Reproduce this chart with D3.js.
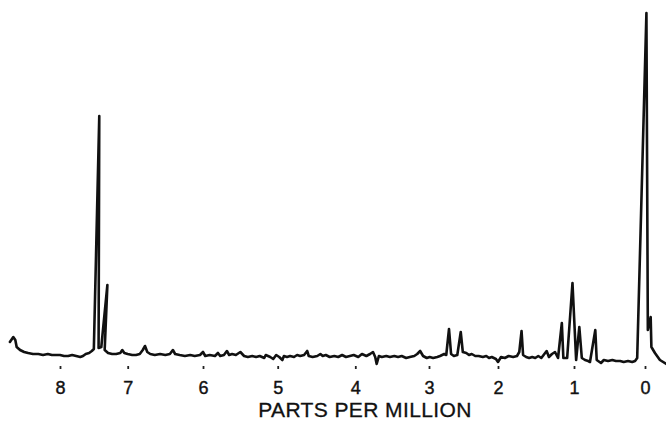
<!DOCTYPE html>
<html>
<head>
<meta charset="utf-8">
<script src="https://cdn.jsdelivr.net/npm/d3@7"></script>
<style>
  html, body { margin: 0; padding: 0; background: #fff; }
  svg { display: block; }
</style>
</head>
<body>
<svg id="chart" width="666" height="421"></svg>
<script>
// Chemical shift (ppm) of each traced point of the spectrum
const ppm = [
  8.74, 8.69, 8.66, 8.64, 8.59, 8.53, 8.47, 8.40, 8.32, 8.25, 8.18, 8.12, 8.06, 8.00,
  7.94, 7.88, 7.82, 7.76, 7.70, 7.66, 7.62, 7.57, 7.53, 7.50, 7.42, 7.43, 7.39, 7.30,
  7.34, 7.29, 7.23, 7.17, 7.11, 7.08, 7.05, 7.00, 6.94, 6.89, 6.84, 6.80, 6.77, 6.74,
  6.70, 6.64, 6.57, 6.50, 6.44, 6.40, 6.37, 6.31, 6.24, 6.17, 6.11, 6.04, 6.00, 5.97,
  5.91, 5.84, 5.80, 5.77, 5.72, 5.68, 5.65, 5.61, 5.56, 5.50, 5.45, 5.40, 5.34, 5.29,
  5.24, 5.18, 5.16, 5.10, 5.06, 5.02, 4.98, 4.94, 4.92, 4.88, 4.84, 4.79, 4.75, 4.71,
  4.66, 4.62, 4.60, 4.55, 4.49, 4.45, 4.42, 4.38, 4.33, 4.27, 4.22, 4.17, 4.12, 4.07,
  4.02, 3.96, 3.91, 3.85, 3.80, 3.76, 3.73, 3.71, 3.68, 3.64, 3.58, 3.53, 3.47, 3.42,
  3.37, 3.31, 3.26, 3.20, 3.16, 3.12, 3.08, 3.03, 2.99, 2.94, 2.88, 2.84, 2.78, 2.75,
  2.71, 2.68, 2.64, 2.59, 2.54, 2.51, 2.46, 2.42, 2.38, 2.33, 2.28, 2.22, 2.17, 2.13,
  2.09, 2.03, 2.00, 1.96, 1.91, 1.86, 1.80, 1.75, 1.72, 1.69, 1.67, 1.63, 1.59, 1.55,
  1.51, 1.47, 1.43, 1.39, 1.36, 1.33, 1.29, 1.25, 1.21, 1.16, 1.14, 1.09, 1.02, 0.97,
  0.925, 0.89, 0.845, 0.80, 0.775, 0.70, 0.68, 0.62, 0.58, 0.52, 0.46, 0.41, 0.35, 0.30,
  0.24, 0.18, 0.14, 0.11, -0.02, -0.04, -0.08, -0.09, -0.14, -0.21, -0.30
];
// Signal intensity (arbitrary units) at each traced point
const intensity = [
  1.8, 2.3, 2.0, 1.3, 1.0, 0.8, 0.7, 0.6, 0.6, 0.5, 0.6, 0.5, 0.5, 0.5,
  0.4, 0.4, 0.5, 0.4, 0.3, 0.4, 0.6, 0.7, 0.9, 1.1, 24.4, 1.2, 1.3, 7.5,
  1.0, 0.7, 0.6, 0.6, 0.7, 1.0, 0.7, 0.6, 0.5, 0.5, 0.6, 1.0, 1.4, 0.8,
  0.6, 0.5, 0.6, 0.5, 0.6, 1.0, 0.6, 0.5, 0.4, 0.5, 0.4, 0.5, 0.8, 0.4,
  0.5, 0.4, 0.7, 0.4, 0.5, 0.9, 0.5, 0.6, 0.5, 0.8, 0.4, 0.3, 0.4, 0.3,
  0.4, 0.2, 0.5, 0.3, 0.1, 0.5, 0.3, 0.0, 0.4, 0.3, 0.4, 0.3, 0.5, 0.4,
  0.5, 0.9, 0.4, 0.3, 0.4, 0.6, 0.4, 0.5, 0.3, 0.4, 0.3, 0.5, 0.3, 0.4,
  0.5, 0.3, 0.6, 0.4, 0.6, 0.8, 0.3, -0.4, 0.4, 0.3, 0.4, 0.3, 0.4, 0.3,
  0.4, 0.2, 0.3, 0.4, 0.6, 0.9, 0.4, 0.2, 0.3, 0.2, 0.3, 0.4, 0.6, 0.5,
  3.1, 0.6, 0.4, 0.5, 2.8, 0.8, 0.7, 0.5, 0.6, 0.4, 0.4, 0.3, 0.4, 0.2,
  0.3, 0.1, -0.2, 0.3, 0.2, 0.4, 0.3, 0.4, 0.8, 2.9, 0.5, 0.3, 0.2, 0.3,
  0.2, 0.4, 0.2, 0.6, 0.9, 0.3, 0.6, 0.8, 0.2, 3.7, 0.2, 0.2, 7.7, 0.0,
  3.3, 0.2, 0.0, -0.1, -0.2, 3.0, 0.0, -0.3, 0.0, -0.1, 0.0, -0.1, -0.1, -0.2,
  -0.1, -0.2, -0.1, 0.2, 34.7, 3.0, 4.3, 1.3, 0.7, 0.0, -0.4
];
// Axis ticks (ppm)
const tickValues = [8, 7, 6, 5, 4, 3, 2, 1, 0];
const axisTitle = "PARTS PER MILLION";

const svg = d3.select("#chart");

// Chart-paper scale: tick marks on the recorder paper are not perfectly even
const x = d3.scaleLinear()
  .domain(tickValues)
  .range([60, 127.7, 203, 277.7, 355.3, 429, 498, 574, 645]);

const y = d3.scaleLinear()
  .domain([0, 35])
  .range([360, 10]);

const points = ppm.map((p, i) => [p, intensity[i]]);

const line = d3.line()
  .x(d => x(d[0]))
  .y(d => y(d[1]));

svg.append("path")
  .datum(points)
  .attr("d", line)
  .attr("fill", "none")
  .attr("stroke", "#111")
  .attr("stroke-width", 2.6)
  .attr("stroke-linejoin", "round")
  .attr("stroke-linecap", "round");

const axis = d3.axisBottom(x)
  .tickValues(tickValues)
  .tickFormat(d3.format("d"))
  .tickSize(3)
  .tickPadding(12);

const gAxis = svg.append("g")
  .attr("transform", "translate(0,366)")
  .call(axis);

gAxis.select(".domain").remove();
gAxis.selectAll(".tick line")
  .attr("stroke", "#222")
  .attr("stroke-width", 1.8);
gAxis.selectAll(".tick text")
  .attr("fill", "#111")
  .attr("stroke", "#111")
  .attr("stroke-width", 0.4)
  .attr("font-family", "'Liberation Sans', Arial, sans-serif")
  .attr("font-size", 18);

svg.append("text")
  .attr("x", 365)
  .attr("y", 417)
  .attr("text-anchor", "middle")
  .attr("font-family", "'Liberation Sans', Arial, sans-serif")
  .attr("font-size", 21)
  .attr("letter-spacing", 0.4)
  .attr("fill", "#111")
  .attr("stroke", "#111")
  .attr("stroke-width", 0.3)
  .text(axisTitle);
</script>
</body>
</html>
